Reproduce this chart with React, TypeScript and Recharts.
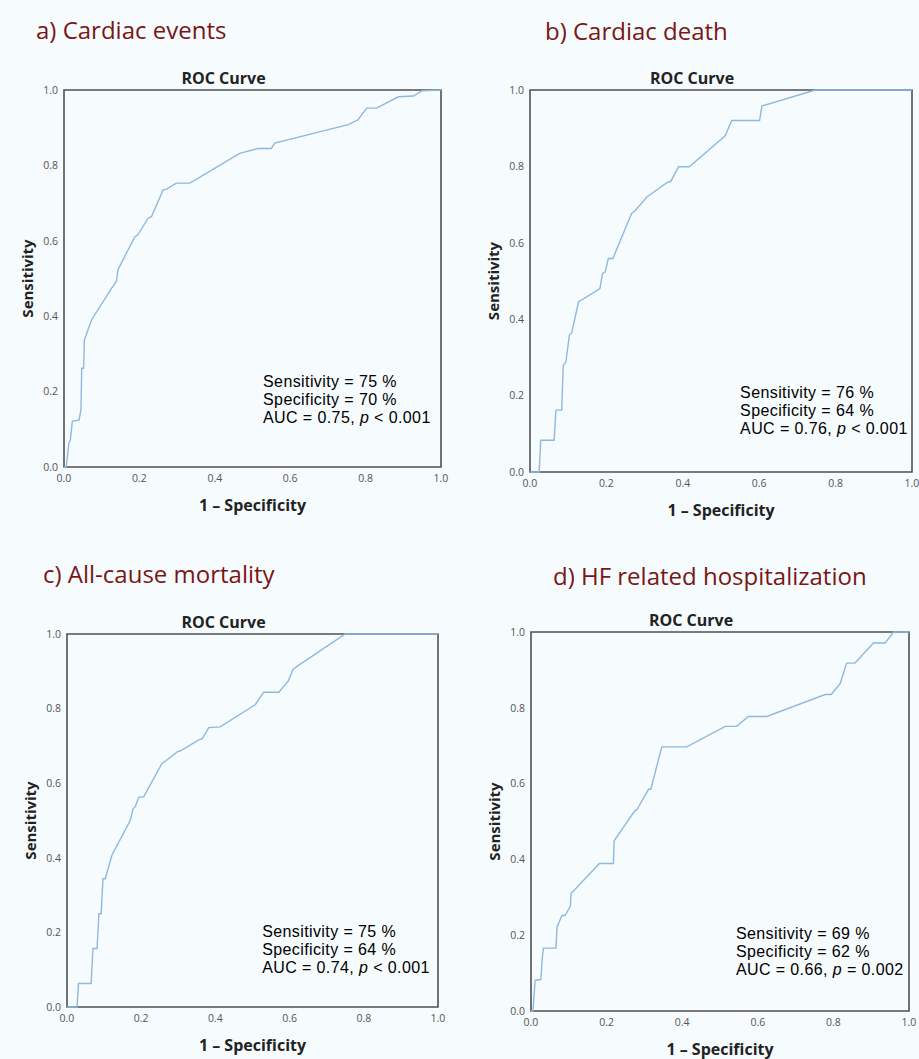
import React from "react";
import { LineChart, Line, XAxis, YAxis, ReferenceArea, Label } from "recharts";

// a) Cardiac events
const cardiacEventsFpr = [0, 0.006, 0.013, 0.017, 0.022, 0.04, 0.045, 0.047, 0.052, 0.054, 0.073, 0.126, 0.139, 0.143, 0.188, 0.196, 0.223, 0.232, 0.263, 0.272, 0.298, 0.334, 0.466, 0.515, 0.55, 0.559, 0.754, 0.78, 0.803, 0.829, 0.887, 0.927, 0.95, 1];
const cardiacEventsTpr = [0, 0, 0.064, 0.072, 0.121, 0.125, 0.152, 0.262, 0.262, 0.337, 0.39, 0.474, 0.492, 0.523, 0.611, 0.616, 0.66, 0.664, 0.735, 0.737, 0.753, 0.753, 0.832, 0.845, 0.845, 0.859, 0.908, 0.921, 0.952, 0.952, 0.982, 0.984, 0.998, 1];

// b) Cardiac death
const cardiacDeathFpr = [0, 0.024, 0.028, 0.063, 0.068, 0.083, 0.087, 0.094, 0.103, 0.109, 0.127, 0.183, 0.19, 0.197, 0.205, 0.217, 0.266, 0.275, 0.306, 0.362, 0.368, 0.389, 0.417, 0.511, 0.528, 0.601, 0.607, 0.747, 1];
const cardiacDeathTpr = [0, 0, 0.083, 0.083, 0.162, 0.162, 0.279, 0.288, 0.358, 0.364, 0.445, 0.48, 0.52, 0.524, 0.559, 0.559, 0.677, 0.684, 0.72, 0.76, 0.76, 0.799, 0.799, 0.88, 0.92, 0.92, 0.958, 1, 1];

// c) All-cause mortality
const mortalityFpr = [0, 0.027, 0.031, 0.065, 0.07, 0.081, 0.086, 0.092, 0.097, 0.103, 0.121, 0.171, 0.178, 0.184, 0.193, 0.207, 0.256, 0.265, 0.297, 0.306, 0.355, 0.364, 0.382, 0.413, 0.508, 0.53, 0.571, 0.597, 0.609, 0.624, 0.75, 1];
const mortalityTpr = [0, 0, 0.063, 0.063, 0.157, 0.157, 0.25, 0.25, 0.344, 0.344, 0.407, 0.501, 0.532, 0.537, 0.562, 0.564, 0.653, 0.659, 0.684, 0.687, 0.716, 0.719, 0.749, 0.751, 0.811, 0.844, 0.844, 0.875, 0.905, 0.916, 1, 1];

// d) HF related hospitalization
const hfFpr = [0, 0.005, 0.011, 0.026, 0.03, 0.033, 0.066, 0.069, 0.082, 0.09, 0.104, 0.106, 0.181, 0.218, 0.22, 0.275, 0.28, 0.311, 0.317, 0.346, 0.412, 0.514, 0.544, 0.575, 0.624, 0.778, 0.794, 0.818, 0.835, 0.857, 0.906, 0.937, 0.959, 1];
const hfTpr = [0, 0, 0.081, 0.083, 0.142, 0.166, 0.166, 0.222, 0.252, 0.252, 0.276, 0.31, 0.389, 0.389, 0.449, 0.529, 0.531, 0.585, 0.585, 0.697, 0.697, 0.751, 0.751, 0.777, 0.777, 0.835, 0.835, 0.864, 0.918, 0.918, 0.971, 0.971, 1, 1];

const axisTicks = [0, 0.2, 0.4, 0.6, 0.8, 1];

const panelTitles = ["a) Cardiac events", "b) Cardiac death", "c) All-cause mortality", "d) HF related hospitalization"];
const sensitivityText = ["75", "76", "75", "69"];
const specificityText = ["70", "64", "64", "62"];
const aucText = ["0.75", "0.76", "0.74", "0.66"];
const pText = ["< 0.001", "< 0.001", "< 0.001", "= 0.002"];

const FONT = "'Open Sans', 'Noto Sans', sans-serif";
// tighter metrics so the stacked stat lines don't collide
const STATS_FONT = "'Liberation Sans', Arial, sans-serif";
const LINE_COLOR = "#8fb9dc";

function toRows(fpr: number[], tpr: number[]) {
  return fpr.map((x, i) => ({ fpr: x, tpr: tpr[i] }));
}

type PanelProps = {
  idx: number;
  fpr: number[];
  tpr: number[];
  plot: { left: number; top: number; w: number; h: number };
  titlePos: { x: number; y: number };
  statsPos: { x: number; y: number };
};

function RocPanel({ idx, fpr, tpr, plot, titlePos, statsPos }: PanelProps) {
  const data = toRows(fpr, tpr);
  const chartLeft = plot.left - 60;
  const chartTop = plot.top - 40;
  const width = 60 + plot.w + 10;
  const height = 40 + plot.h + 55;
  const statsTop = plot.top + plot.h - statsPos.y - 14;

  const statLines = [
    <>Sensitivity = {sensitivityText[idx]} %</>,
    <>Specificity = {specificityText[idx]} %</>,
    <>
      AUC = {aucText[idx]}, <i>p</i> {pText[idx]}
    </>,
  ];

  return (
    <>
      <div
        style={{
          position: "absolute",
          left: titlePos.x,
          top: titlePos.y,
          fontFamily: FONT,
          fontSize: 24,
          fontWeight: 500,
          color: "#7a1616",
          whiteSpace: "nowrap",
          lineHeight: 1,
        }}
      >
        {panelTitles[idx]}
      </div>
      <div
        style={{
          position: "absolute",
          left: plot.left + plot.w / 2 - 29 - 60,
          width: 120,
          textAlign: "center",
          top: plot.top - 20,
          fontFamily: FONT,
          fontSize: 16,
          fontWeight: 700,
          color: "#222",
          lineHeight: 1,
        }}
      >
        ROC Curve
      </div>
      <div style={{ position: "absolute", left: chartLeft, top: chartTop }}>
        <LineChart
          width={width}
          height={height}
          data={data}
          margin={{ top: 40, right: 10, bottom: 30, left: 20 }}
        >
          <XAxis
            dataKey="fpr"
            type="number"
            domain={[0, 1]}
            ticks={axisTicks}
            tickFormatter={(v: number) => v.toFixed(1)}
            axisLine={false}
            tickLine={false}
            tickSize={4}
            tickMargin={4}
            height={25}
            tick={{ fontSize: 10.5, fill: "#555", fontFamily: FONT }}
          >
            <Label
              value="1 – Specificity"
              position="bottom"
              offset={8}
              style={{ fontSize: 16, fontWeight: 700, fill: "#222", fontFamily: FONT }}
            />
          </XAxis>
          <YAxis
            dataKey="tpr"
            type="number"
            domain={[0, 1]}
            ticks={axisTicks}
            tickFormatter={(v: number) => v.toFixed(1)}
            axisLine={false}
            tickLine={false}
            tickSize={4}
            tickMargin={2}
            width={40}
            tick={{ fontSize: 10.5, fill: "#555", fontFamily: FONT }}
          >
            <Label
              value="Sensitivity"
              angle={-90}
              position="insideLeft"
              offset={4}
              style={{ textAnchor: "middle", fontSize: 15, fontWeight: 700, fill: "#222", fontFamily: FONT }}
            />
          </YAxis>
          <Line
            type="linear"
            dataKey="tpr"
            stroke={LINE_COLOR}
            strokeWidth={1.4}
            dot={false}
            isAnimationActive={false}
          />
          <ReferenceArea x1={0} x2={1} y1={0} y2={1} fill="none" stroke="#505050" strokeWidth={1.6} />
        </LineChart>
      </div>
      {statLines.map((content, i) => (
        <div
          key={i}
          style={{
            position: "absolute",
            left: plot.left + plot.w * statsPos.x,
            top: statsTop + i * 18,
            height: 18,
            fontFamily: STATS_FONT,
            fontSize: 16,
            letterSpacing: 0.4,
            lineHeight: "18px",
            color: "#000",
            whiteSpace: "nowrap",
          }}
        >
          {content}
        </div>
      ))}
    </>
  );
}

export default function App() {
  return (
    <div
      style={{
        position: "absolute",
        left: 0,
        top: 0,
        width: 919,
        height: 1059,
        background: "#f6fbfd",
        overflow: "hidden",
      }}
    >
      <RocPanel
        idx={0}
        fpr={cardiacEventsFpr}
        tpr={cardiacEventsTpr}
        plot={{ left: 64, top: 90, w: 377, h: 377 }}
        titlePos={{ x: 36, y: 18 }}
        statsPos={{ x: 0.528, y: 80 }}
      />
      <RocPanel
        idx={1}
        fpr={cardiacDeathFpr}
        tpr={cardiacDeathTpr}
        plot={{ left: 530, top: 90, w: 382, h: 382 }}
        titlePos={{ x: 545, y: 19 }}
        statsPos={{ x: 0.55, y: 74 }}
      />
      <RocPanel
        idx={2}
        fpr={mortalityFpr}
        tpr={mortalityTpr}
        plot={{ left: 67, top: 634, w: 371, h: 373 }}
        titlePos={{ x: 43, y: 562 }}
        statsPos={{ x: 0.526, y: 70 }}
      />
      <RocPanel
        idx={3}
        fpr={hfFpr}
        tpr={hfTpr}
        plot={{ left: 531, top: 632, w: 378, h: 379 }}
        titlePos={{ x: 553, y: 564 }}
        statsPos={{ x: 0.542, y: 72 }}
      />
    </div>
  );
}
